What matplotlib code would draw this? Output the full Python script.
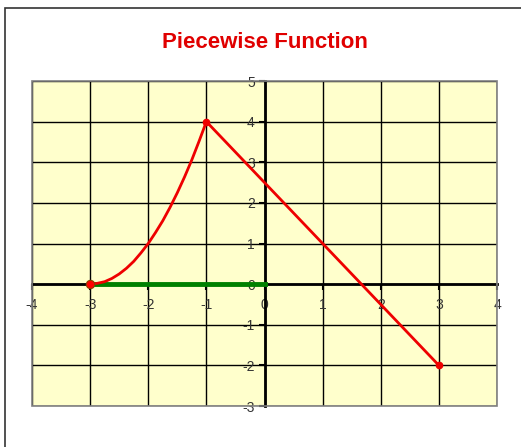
import numpy as np
import matplotlib.pyplot as plt
from matplotlib.patches import Rectangle

plt.rcParams['font.family'] = ['Liberation Sans', 'DejaVu Sans']
plt.rcParams['axes.unicode_minus'] = False

# curve piece
curve_x = [-3, -2.875, -2.75, -2.625, -2.5, -2.375, -2.25, -2.125, -2,
           -1.875, -1.75, -1.625, -1.5, -1.375, -1.25, -1.125, -1]
curve_y = [0, 0.02, 0.06, 0.14, 0.25, 0.39, 0.56, 0.77, 1,
           1.27, 1.56, 1.89, 2.25, 2.64, 3.06, 3.52, 4]

# straight piece
line_x = [-1, 0, 1, 2, 3]
line_y = [4, 2.5, 1, -0.5, -2]

# green segment on the x axis
green_x = [-3, 0]
green_y = [0, 0]

# marked points
pts_x = [-1, 3]
pts_y = [4, -2]
start_pt = (-3, 0)

xticks = [-4, -3, -2, -1, 0, 1, 2, 3, 4]
yticks = [-3, -2, -1, 0, 1, 2, 3, 4, 5]

fig = plt.figure(figsize=(5.21, 4.47), dpi=100)

# outer chart frame (cut off on right and bottom like the screenshot)
fig.patches.append(Rectangle((5 / 521, -0.1), 1.2, 1 - 8 / 447 + 0.1,
                             transform=fig.transFigure, fill=False,
                             edgecolor='#333333', linewidth=1.2))

ax = fig.add_axes([32 / 521, 41 / 447, 465 / 521, 325 / 447])
ax.set_facecolor('#FFFFCC')
ax.set_xlim(-4, 4)
ax.set_ylim(-3, 5)

ax.set_xticks(xticks)
ax.set_yticks(yticks)
ax.grid(True, color='black', linewidth=1)
ax.set_axisbelow(True)

# axes through the origin
for side in ['top', 'right']:
    ax.spines[side].set_visible(False)
ax.spines['left'].set_position('zero')
ax.spines['bottom'].set_position('zero')
ax.spines['left'].set_linewidth(2)
ax.spines['bottom'].set_linewidth(2)
ax.spines['left'].set_zorder(3)
ax.spines['bottom'].set_zorder(3)

# grey plot-area border
ax.add_patch(Rectangle((0, 0), 1, 1, transform=ax.transAxes, fill=False,
                       edgecolor='#808080', linewidth=1.2, zorder=4, clip_on=False))

ax.tick_params(axis='both', direction='out', length=4, width=1.5,
               labelsize=10, labelcolor='#333333')
ax.tick_params(axis='y', pad=3)
ax.tick_params(axis='x', pad=6)

ax.plot(green_x, green_y, color='#008000', linewidth=3.5, zorder=5)
ax.plot(curve_x, curve_y, color='#EE0000', linewidth=2, zorder=6)
ax.plot(line_x, line_y, color='#EE0000', linewidth=2, zorder=6)
ax.plot(pts_x, pts_y, 'o', color='#EE0000', markersize=4.5, zorder=7)
ax.plot([start_pt[0]], [start_pt[1]], 'o', color='#FF0000', markersize=6,
        markeredgecolor='#8B4000', markeredgewidth=0.8, zorder=7)

fig.text(265 / 521, 1 - 43 / 447, 'Piecewise Function', color='#E00000',
         fontsize=16, fontweight='bold', ha='center', va='center')

fig.savefig('out.png', dpi=100, facecolor='white')
